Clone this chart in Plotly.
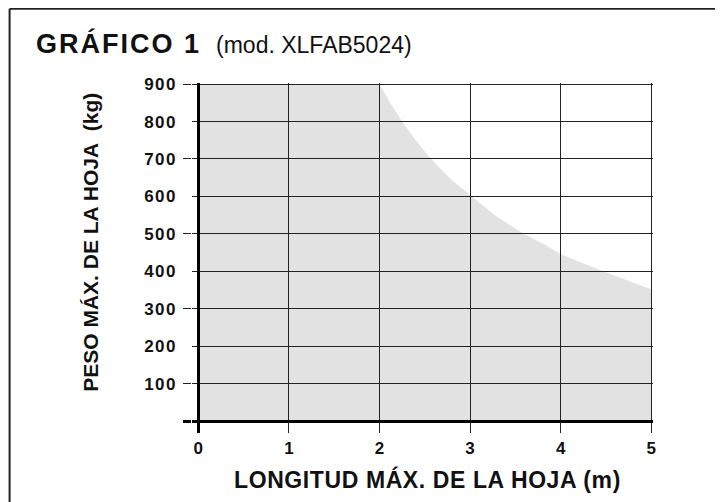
import plotly.graph_objects as go

# Data
length_m = [0, 2.0, 2.1, 2.25, 2.4, 2.57, 2.8, 3.0, 3.3, 3.58, 3.8, 4.0, 4.2, 4.43, 4.6, 5.0]
weight_kg = [900, 900, 857, 800, 750, 700, 643, 604, 545, 502, 474, 446, 426, 404, 388, 352]

x_ticks = [0, 1, 2, 3, 4, 5]
x_tick_labels = ["0", "1", "2", "3", "4", "5"]
y_ticks = [100, 200, 300, 400, 500, 600, 700, 800, 900]
y_tick_labels = ["100", "200", "300", "400", "500", "600", "700", "800", "900"]
y_long_ticks = [100, 300, 500, 700, 900]

title_main = "GRÁFICO 1"
title_sub = "(mod. XLFAB5024)"
x_title = "LONGITUD MÁX. DE LA HOJA (m)"
y_title = "PESO MÁX. DE LA HOJA\u00a0\u00a0(kg)"

FONT = "Liberation Sans, Arial, Helvetica, sans-serif"
GRID = "#222222"

# area under the limit curve, built as a path in data coordinates (drawn below gridlines)
path = "M {},{} ".format(length_m[0], 0)
path += " ".join("L {},{}".format(x, y) for x, y in zip(length_m, weight_kg))
path += " L {},{} Z".format(length_m[-1], 0)

fig = go.Figure()
# invisible traces to activate axes
fig.add_trace(go.Scatter(x=length_m, y=weight_kg, mode="lines",
                         line=dict(width=0), opacity=0, showlegend=False, hoverinfo="skip"))
fig.add_trace(go.Scatter(x=[0], y=[0], yaxis="y2", mode="markers",
                         marker=dict(opacity=0), showlegend=False, hoverinfo="skip"))
fig.add_trace(go.Scatter(x=[0], y=[0], yaxis="y3", mode="markers",
                         marker=dict(opacity=0), showlegend=False, hoverinfo="skip"))

Y_RANGE = [-32, 903]
X_RANGE = [-0.07, 5.02]

fig.update_layout(
    width=715, height=494,
    margin=dict(l=184, r=70, t=75, b=69),
    paper_bgcolor="white", plot_bgcolor="white",
    font=dict(family=FONT, color="#111"),
    showlegend=False,
    title=dict(
        text=(f"<span style='letter-spacing:2px'><b>{title_main}</b></span>\u00a0\u00a0"
              f"<span style='font-size:23px;font-weight:normal'>{title_sub}</span>"),
        font=dict(family=FONT, size=27, color="#111"),
        xref="container", yref="container", x=28 / 715, xanchor="left",
        y=1 - 36 / 494, yanchor="middle",
    ),
    xaxis=dict(
        range=X_RANGE, tickvals=x_ticks, ticktext=x_tick_labels,
        showgrid=True, gridcolor=GRID, gridwidth=1,
        zeroline=True, zerolinecolor="#000", zerolinewidth=3,
        showline=False, ticks="", ticklabelstandoff=3,
        tickfont=dict(family=FONT, size=17, color="#111", weight="bold"),
        fixedrange=True,
    ),
    yaxis=dict(
        range=Y_RANGE, tickvals=y_ticks,
        ticktext=[f"<span style='letter-spacing:1.5px'>{t}</span>" for t in y_tick_labels],
        showgrid=True, gridcolor=GRID, gridwidth=1,
        zeroline=True, zerolinecolor="#000", zerolinewidth=3,
        showline=False, ticks="", ticklabelstandoff=14,
        tickfont=dict(family=FONT, size=17, color="#111", weight="bold"),
        fixedrange=True,
    ),
    yaxis2=dict(
        range=Y_RANGE, overlaying="y", side="left", tickvals=y_long_ticks,
        ticks="outside", ticklen=8, tickwidth=1, tickcolor=GRID,
        showticklabels=False, showgrid=False, zeroline=False, showline=False,
        fixedrange=True,
    ),
    yaxis3=dict(
        range=Y_RANGE, overlaying="y", side="left", tickvals=[0],
        ticks="outside", ticklen=8, tickwidth=3, tickcolor="#000",
        showticklabels=False, showgrid=False, zeroline=False, showline=False,
        fixedrange=True,
    ),
    annotations=[
        dict(text=f"<span style='letter-spacing:0.6px'><b>{x_title}</b></span>",
             xref="paper", yref="paper",
             x=(427 - 192) / 460, y=(433 - 479) / 349, xanchor="center", yanchor="middle",
             showarrow=False, font=dict(family=FONT, size=23, color="#111")),
        dict(text=f"<b>{y_title}</b>", xref="paper", yref="paper",
             x=(91 - 192) / 460, y=(433 - 242.5) / 349, xanchor="center", yanchor="middle",
             textangle=-90, showarrow=False, font=dict(family=FONT, size=21, color="#111")),
    ],
    shapes=[
        dict(type="path", path=path, xref="x", yref="y", layer="below",
             fillcolor="#e2e2e2", line=dict(width=0)),
        # outer frame (top and left edges visible in reference)
        dict(type="line", xref="paper", yref="paper",
             x0=(10 - 192) / 460, x1=(760 - 192) / 460,
             y0=(433 - 10) / 349, y1=(433 - 10) / 349,
             line=dict(color="#222", width=2)),
        dict(type="line", xref="paper", yref="paper",
             x0=(10 - 192) / 460, x1=(10 - 192) / 460,
             y0=(433 - 10) / 349, y1=(433 - 540) / 349,
             line=dict(color="#222", width=2)),
    ],
)

fig.write_html("out.html")
